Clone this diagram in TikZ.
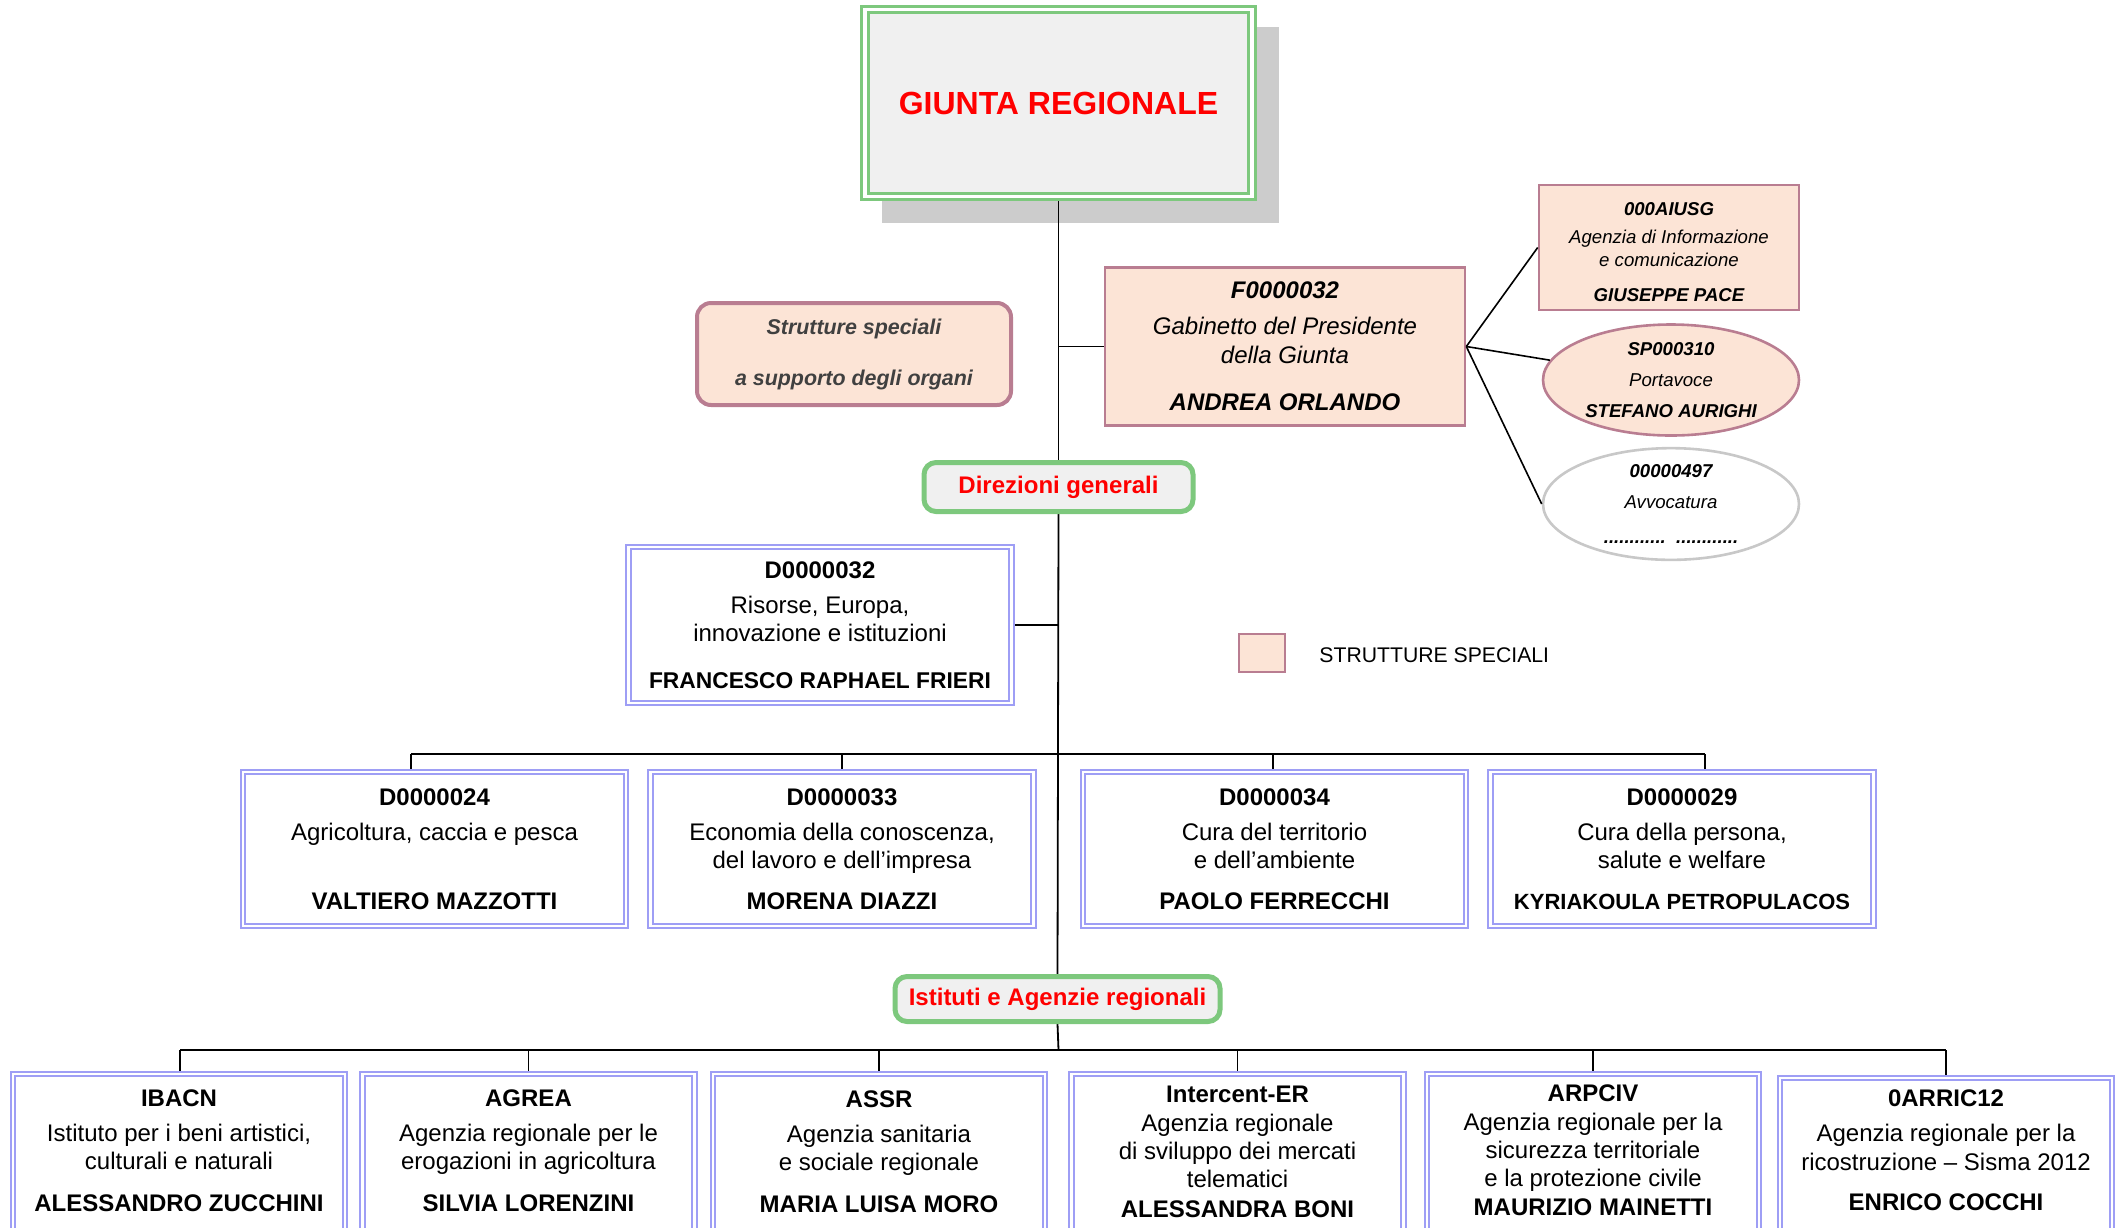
\documentclass[tikz,border=0pt]{standalone}
\usepackage{fontspec}
\setmainfont{Liberation Sans}
\usetikzlibrary{shapes.geometric,backgrounds}
\definecolor{grn}{RGB}{125,200,125}
\definecolor{lav}{RGB}{158,158,245}
\definecolor{peach}{RGB}{252,228,214}
\definecolor{mauve}{RGB}{185,125,145}
\definecolor{lgray}{RGB}{200,200,200}
\definecolor{shadowc}{RGB}{204,204,204}
\definecolor{boxgray}{RGB}{240,240,240}
\definecolor{txtgray}{RGB}{64,64,64}
\begin{document}
\begin{tikzpicture}[x=0.5pt,y=-0.5pt,
  conn/.style={draw=black,line width=0.9pt},
  barline/.style={draw=black,line width=1.3pt},
  dropline/.style={draw=black,line width=0.7pt},
  sconn/.style={draw=black,line width=0.8pt},
  dbox/.style={draw=lav,line width=1.1pt,double=white,double distance=1.2pt,fill=white,
    minimum width=191.5pt,minimum height=77pt,inner sep=0pt,align=center,
    font=\fontsize{12}{14}\selectfont},
  ibox/.style={draw=lav,line width=1.1pt,double=white,double distance=1.2pt,fill=white,
    minimum width=166pt,minimum height=85pt,inner sep=0pt},
  itxt/.style={inner sep=0pt,align=center,font=\fontsize{12}{14}\selectfont},
  spbox/.style={draw=mauve,line width=1.3pt,fill=peach,inner sep=0pt,align=center},
  hdr/.style={draw=grn,line width=2.5pt,rounded corners=6pt,fill=boxgray,text=red,
    inner sep=0pt,font=\bfseries\fontsize{12}{14}\selectfont},
  giuntabox/.style={draw=grn,line width=1.6pt,double=white,double distance=1.6pt,fill=boxgray,
    text=red,minimum width=193.5pt,minimum height=93.5pt,inner sep=0pt,
    font=\bfseries\fontsize{16}{19}\selectfont}]
\useasboundingbox (0,0) rectangle (2119,1227);

% top
\node[giuntabox] (giunta) at (1058.5,103) {GIUNTA REGIONALE};

\node[spbox,rounded corners=7pt,line width=2pt,minimum width=157pt,minimum height=51pt,
  text=txtgray,font=\bfseries\itshape\fontsize{10.7}{13}\selectfont]
  (strutt) at (854,354) {Strutture speciali\\[12.5pt]a supporto degli organi};

\node[spbox,minimum width=180pt,minimum height=79pt,font=\itshape\fontsize{12}{14.5}\selectfont]
  (gab) at (1285,346.5) {\textbf{F0000032}\\[3.5pt]Gabinetto del Presidente\\della Giunta\\[9pt]\textbf{ANDREA ORLANDO}};

\node[spbox,minimum width=130pt,minimum height=62.5pt,font=\itshape\fontsize{9.3}{11.5}\selectfont]
  (aius) at (1669,247.5) {\rule{0pt}{10.7pt}\textbf{000AIUSG}\\[2.5pt]Agenzia di Informazione\\e comunicazione\\[6pt]\textbf{GIUSEPPE PACE}};

\node[ellipse,draw=mauve,line width=1.3pt,fill=peach,minimum width=128pt,minimum height=55.5pt,
  inner sep=0pt,align=center,font=\itshape\fontsize{9.3}{11.5}\selectfont]
  (sp) at (1671,380) {\textbf{SP000310}\\[4pt]Portavoce\\[4pt]\textbf{STEFANO AURIGHI}};

\node[ellipse,draw=lgray,line width=1.3pt,fill=white,minimum width=128pt,minimum height=55.5pt,
  inner sep=0pt,align=center,font=\itshape\fontsize{9.3}{11.5}\selectfont]
  (avv) at (1671,504) {\textbf{00000497}\\[4pt]Avvocatura\\[6pt]\textbf{............\ \ ............}};

\node[hdr,minimum width=134.5pt,minimum height=24.5pt] (dirgen) at (1058.5,487) {Direzioni generali};

\node[dbox,minimum height=78pt] (d32) at (820,625)
  {\textbf{D0000032}\\[3.5pt]Risorse, Europa,\\innovazione e istituzioni\\[9.5pt]{\fontsize{11.4}{14}\selectfont\textbf{FRANCESCO RAPHAEL FRIERI}}};

% legend
\node[draw=mauve,fill=peach,line width=0.8pt,minimum width=23pt,minimum height=19pt,inner sep=0pt] (leg) at (1262,653) {};
\node[anchor=west,inner sep=0pt,font=\fontsize{10.6}{13}\selectfont] (legt) at (1319,655) {STRUTTURE SPECIALI};

% D row
\node[dbox] (d24) at (434.5,849) {\textbf{D0000024}\\[3.5pt]Agricoltura, caccia e pesca\\[20.5pt]\textbf{VALTIERO MAZZOTTI}};
\node[dbox] (d33) at (842,849) {\textbf{D0000033}\\[3.5pt]Economia della conoscenza,\\del lavoro e dell’impresa\\[6.5pt]\textbf{MORENA DIAZZI}};
\node[dbox] (d34) at (1274.5,849) {\textbf{D0000034}\\[3.5pt]Cura del territorio\\e dell’ambiente\\[6.5pt]\textbf{PAOLO FERRECCHI}};
\node[dbox] (d29) at (1682,849) {\textbf{D0000029}\\[3.5pt]Cura della persona,\\salute e welfare\\[6.5pt]{\fontsize{11}{14}\selectfont\textbf{KYRIAKOULA PETROPULACOS}}};

\node[hdr,minimum width=162.5pt,minimum height=22.5pt] (istit) at (1057.5,999) {Istituti e Agenzie regionali};

% bottom row boxes
\node[ibox] (ib) at (179,1159) {};
\node[ibox] (ag) at (528.5,1159) {};
\node[ibox] (as) at (879,1159) {};
\node[ibox] (ic) at (1237.5,1159) {};
\node[ibox] (ar) at (1593,1159) {};
\node[ibox] (ri) at (1946,1163) {};

\node[itxt] (ibt) at (179,1150.5) {\textbf{IBACN}\\[3.5pt]Istituto per i beni artistici,\\culturali e naturali\\[7pt]\textbf{ALESSANDRO ZUCCHINI}};
\node[itxt] (agt) at (528.5,1150.5) {\textbf{AGREA}\\[3.5pt]Agenzia regionale per le\\erogazioni in agricoltura\\[7pt]\textbf{SILVIA LORENZINI}};
\node[itxt] (ast) at (879,1152) {\textbf{ASSR}\\[3.5pt]Agenzia sanitaria\\e sociale regionale\\[7pt]\textbf{MARIA LUISA MORO}};
\node[itxt] (ict) at (1237.5,1152) {\textbf{Intercent-ER}\\[0.5pt]Agenzia regionale\\di sviluppo dei mercati\\telematici\\[1pt]\textbf{ALESSANDRA BONI}};
\node[itxt] (art) at (1593,1150) {\textbf{ARPCIV}\\[0.5pt]Agenzia regionale per la\\sicurezza territoriale\\e la protezione civile\\[0.5pt]\textbf{MAURIZIO MAINETTI}};
\node[itxt] (rit) at (1946,1150.5) {\textbf{0ARRIC12}\\[3.5pt]Agenzia regionale per la\\[0.5pt]ricostruzione – Sisma 2012\\[6pt]\textbf{ENRICO COCCHI}};

% coordinates
\coordinate (jF) at (1058.5,346.5);
\coordinate (jD) at (1058.5,625);
\coordinate (dA) at (411,754);
\coordinate (dB) at (842,754);
\coordinate (dC) at (1273,754);
\coordinate (dD) at (1705,754);
\coordinate (iA) at (180,1050);
\coordinate (iF) at (1946,1050);
\coordinate (barI) at (1058.5,1050);

\begin{pgfonlayer}{background}
  \fill[shadowc] (882,27) rectangle (1279,223);
  \draw[conn] (giunta.south) -- (dirgen.north);
  \draw[conn] (dirgen.south) -- (istit.north);
  \draw[conn] (istit.south) -- (barI);
  \draw[conn] (jF) -- (gab.west);
  \draw[conn] (jD) -- (d32.east);
  \draw[barline] (dA) -- (dD);
  \draw[dropline] (dA) -- (dA |- d24.north);
  \draw[dropline] (dB) -- (dB |- d33.north);
  \draw[dropline] (dC) -- (dC |- d34.north);
  \draw[dropline] (dD) -- (dD |- d29.north);
  \draw[barline] (iA) -- (iF);
  \draw[dropline] (iA) -- (iA |- ib.north);
  \draw[dropline] (iA -| ag) -- (ag.north);
  \draw[dropline] (iA -| as) -- (as.north);
  \draw[dropline] (iA -| ic) -- (ic.north);
  \draw[dropline] (iA -| ar) -- (ar.north);
  \draw[dropline] (iF) -- (ri.north);
\end{pgfonlayer}
\draw[sconn] (gab.east) -- (aius.west);
\draw[sconn] (gab.east) -- (sp);
\draw[sconn] (gab.east) -- (avv.west);
\end{tikzpicture}
\end{document}
